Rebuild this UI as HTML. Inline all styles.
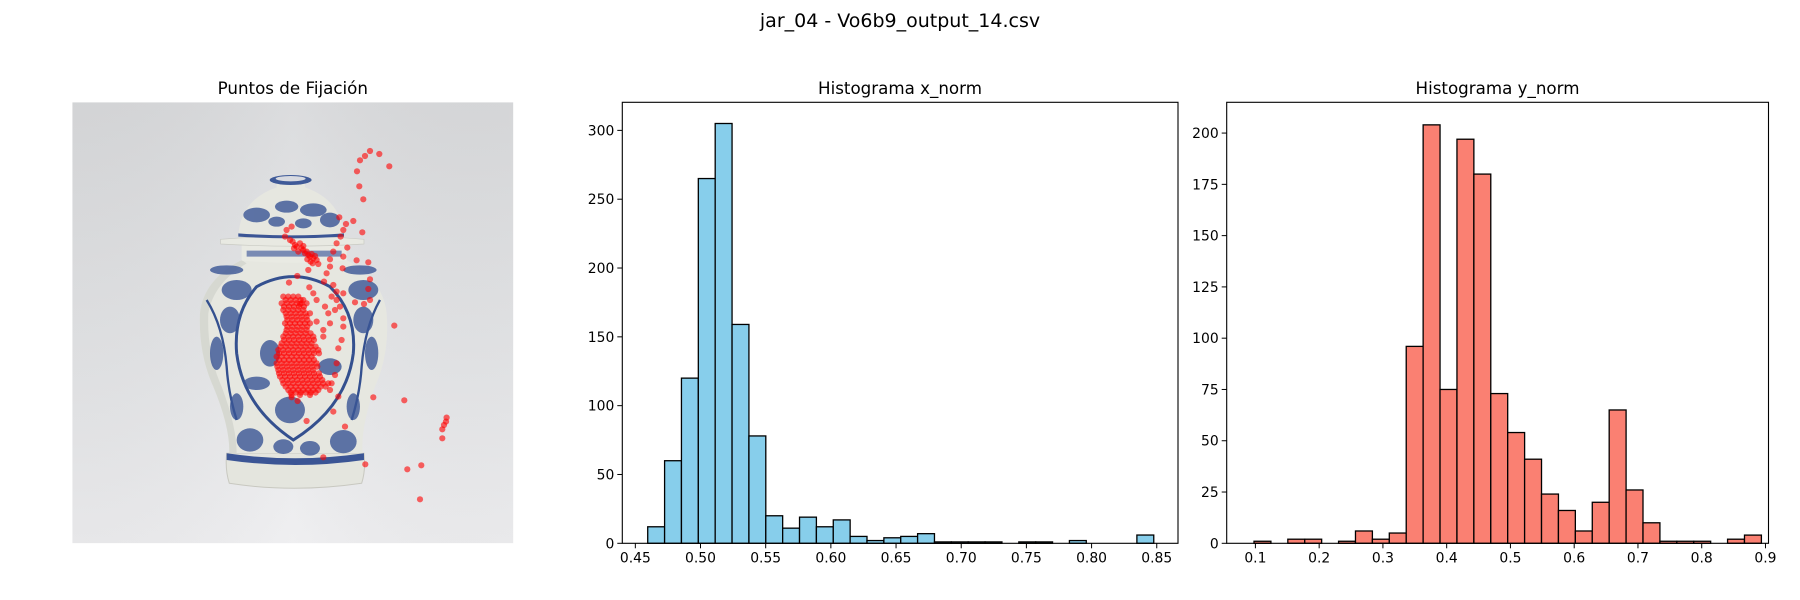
<!DOCTYPE html>
<html><head><meta charset="utf-8">
<style>
html,body{margin:0;padding:0;background:#fff;}
svg{display:block;font-family:"DejaVu Sans","Liberation Sans",sans-serif;}
</style></head>
<body>
<svg id="fig" width="1800" height="600" viewBox="0 0 1800 600" xmlns="http://www.w3.org/2000/svg">
<defs>
<linearGradient id="bg" x1="0" y1="0" x2="0" y2="1">
<stop offset="0" stop-color="#d9dadc"/><stop offset="0.6" stop-color="#e5e6e8"/><stop offset="1" stop-color="#eeeef0"/>
</linearGradient>
<linearGradient id="bgh" x1="0" y1="0" x2="1" y2="0">
<stop offset="0" stop-color="#000" stop-opacity="0.03"/><stop offset="0.5" stop-color="#fff" stop-opacity="0.06"/><stop offset="1" stop-color="#000" stop-opacity="0.02"/>
</linearGradient>
<clipPath id="imgclip"><rect x="72.3" y="102.3" width="441" height="441"/></clipPath>
</defs>
<text x="900" y="27" text-anchor="middle" font-size="19" fill="#000">jar_04 - Vo6b9_output_14.csv</text>

<g id="panel1">
<text x="292.8" y="94" text-anchor="middle" font-size="16.7">Puntos de Fijación</text>
<g clip-path="url(#imgclip)">
<rect x="72.3" y="102.3" width="441" height="441" fill="url(#bg)"/>
<rect x="72.3" y="102.3" width="441" height="441" fill="url(#bgh)"/>
<g id="vase" transform="translate(70,100) scale(0.3333)">
<path d="M470 1060 Q465 1110 478 1150 Q670 1180 875 1150 Q888 1110 882 1060 Z" fill="#e4e5de" stroke="#c8c8c0" stroke-width="3"/>
<path d="M470 1060 Q675 1090 882 1060 L882 1080 Q675 1110 470 1080 Z" fill="#3b5595"/>
<path d="M515 480 Q400 540 390 640 Q385 760 430 860 Q480 980 478 1060 L878 1060 Q872 980 915 860 Q960 760 950 640 Q940 540 830 480 Z" fill="#e6e7e0"/>
<path d="M515 480 Q400 540 390 640 Q385 760 430 860 Q480 980 478 1060 L500 1060 Q500 980 455 860 Q410 760 415 640 Q430 550 530 490 Z" fill="#d6d8d1"/>
<path d="M560 560 Q670 500 780 560 Q860 640 850 760 Q830 920 670 1020 Q520 920 500 760 Q490 640 560 560 Z" fill="none" stroke="#34508f" stroke-width="9"/>
<path d="M410 600 Q460 680 470 800 Q475 880 500 960" fill="none" stroke="#34508f" stroke-width="7"/>
<path d="M930 600 Q885 680 875 800 Q870 880 845 960" fill="none" stroke="#34508f" stroke-width="7"/>
<g fill="#3a5596" opacity="0.8">
<ellipse cx="500" cy="570" rx="45" ry="30"/><ellipse cx="880" cy="570" rx="45" ry="30"/>
<ellipse cx="470" cy="510" rx="50" ry="14"/><ellipse cx="870" cy="510" rx="50" ry="14"/>
<ellipse cx="540" cy="1020" rx="40" ry="35"/><ellipse cx="820" cy="1025" rx="40" ry="35"/>
<ellipse cx="640" cy="1040" rx="30" ry="22"/><ellipse cx="720" cy="1045" rx="30" ry="22"/>
<ellipse cx="560" cy="850" rx="40" ry="20"/><ellipse cx="660" cy="930" rx="45" ry="40"/>
<ellipse cx="780" cy="800" rx="35" ry="25"/><ellipse cx="600" cy="760" rx="30" ry="40"/>
<ellipse cx="440" cy="760" rx="20" ry="50"/><ellipse cx="905" cy="760" rx="20" ry="50"/>
<ellipse cx="880" cy="660" rx="30" ry="40"/><ellipse cx="480" cy="660" rx="30" ry="40"/>
<ellipse cx="500" cy="920" rx="20" ry="40"/><ellipse cx="850" cy="920" rx="20" ry="40"/>
</g>
<path d="M515 432 L830 432 L830 482 Q672 495 515 482 Z" fill="#e9eae3"/>
<path d="M530 452 L815 452 L815 470 L530 470 Z" fill="#4a639f" opacity="0.7"/>
<path d="M452 418 Q670 400 882 418 L882 432 Q670 445 452 432 Z" fill="#e8e9e2" stroke="#c9cac3" stroke-width="2"/>
<path d="M505 410 Q510 300 620 262 L705 262 Q815 300 822 410 Q665 420 505 410 Z" fill="#e6e7e0"/>
<path d="M505 400 Q665 412 822 400 L822 410 Q665 420 505 410 Z" fill="#3b5595"/>
<g fill="#3a5596" opacity="0.8">
<ellipse cx="560" cy="345" rx="40" ry="22"/><ellipse cx="650" cy="320" rx="35" ry="18"/>
<ellipse cx="730" cy="330" rx="40" ry="20"/><ellipse cx="780" cy="360" rx="30" ry="22"/>
<ellipse cx="620" cy="365" rx="25" ry="15"/><ellipse cx="700" cy="370" rx="25" ry="15"/>
</g>
<path d="M620 250 L705 250 L705 275 Q662 285 620 275 Z" fill="#e6e7e0"/>
<ellipse cx="662" cy="240" rx="63" ry="15" fill="#3f5a98"/>
<ellipse cx="662" cy="236" rx="45" ry="8" fill="#d8dae0"/>
</g>
<g id="points"></g>
</g>
</g>

<g id="panel2">
<text x="900" y="94" text-anchor="middle" font-size="16.7">Histograma x_norm</text>
<g id="h1bars"></g><g id="h1axes"></g>
</g>
<g id="panel3">
<text x="1497.5" y="94" text-anchor="middle" font-size="16.7">Histograma y_norm</text>
<g id="h2bars"></g><g id="h2axes"></g>
</g>
</svg>
<script>
// ---- fixation data (image pixel coords, image spans 7..1330 in both axes) ----
const fixX = [900,928,885,870,958,861,868,880,850,877,808,828,820,812,800,832,820,860,895,790,780,745,780,818,900,895,900,855,882,973,910,1003,1130,1128,1122,1117,1117,886,1012,1054,1050,825,790,760,710,683,805,665,715,682,657,770,762,790,800,800,810,820,820,795,780,760,760,815,805,800,795,785,780,740,720,740,730,718,775,765,700,690,660,650,665,645,820,785,
668,675,680,690,695,700,705,710,715,720,725,730,735,712,722,700,685,672,728,740,
640,655,670,685,635,650,665,680,695,710,640,655,670,685,700,650,665,680,695,710,645,660,675,690,705,720,650,665,680,695,710,640,655,670,685,700,715,730,635,650,665,680,695,710,725,625,640,655,670,685,700,715,730,745,620,635,650,665,680,695,710,725,620,635,650,665,680,695,710,725,740,625,640,655,670,685,700,715,730,630,645,660,675,690,705,720,735,750,640,655,670,685,700,715,730,745,760,775,655,670,685,700,715,730,745,665,690,720];
const fixY = [153,162,168,181,199,214,259,298,363,397,352,372,390,410,430,443,470,481,487,455,478,492,500,505,538,567,600,607,612,677,892,901,953,965,975,988,1015,1093,1108,1096,1198,980,935,1072,963,903,890,892,510,528,548,520,545,555,575,600,620,655,680,630,670,690,710,720,745,790,825,850,870,665,640,600,580,562,640,620,600,612,420,390,380,410,580,590,
425,435,440,430,445,450,460,455,465,470,462,475,468,478,485,438,455,445,490,480,
590,590,590,590,610,610,610,610,610,610,630,630,630,630,630,650,650,650,650,650,670,670,670,670,670,670,690,690,690,690,690,710,710,710,710,710,710,710,730,730,730,730,730,730,730,750,750,750,750,750,750,750,750,750,770,770,770,770,770,770,770,770,790,790,790,790,790,790,790,790,790,810,810,810,810,810,810,810,810,830,830,830,830,830,830,830,830,830,850,850,850,850,850,850,850,850,850,850,870,870,870,870,870,870,870,885,885,885];
// additional dense-cluster fixations
const blobX = [647,662,677,692, 642,657,672,687,702, 647,662,677,692,707, 652,667,682,697,712, 652,667,682,697,712, 647,662,677,692,707,722, 642,657,672,687,702,717,732, 632,647,662,677,692,707,722,737, 627,642,657,672,687,702,717,732,747, 627,642,657,672,687,702,717,732, 622,637,652,667,682,697,712,727,742, 627,642,657,672,687,702,717,732,747, 637,652,667,682,697,712,727,742,757, 647,662,677,692,707,722,737,752,767, 662,677,692,707,722,737];
const blobY = [600,600,600,600, 620,620,620,620,620, 640,640,640,640,640, 660,660,660,660,660, 680,680,680,680,680, 700,700,700,700,700,700, 720,720,720,720,720,720,720, 740,740,740,740,740,740,740,740, 760,760,760,760,760,760,760,760,760, 780,780,780,780,780,780,780,780, 800,800,800,800,800,800,800,800,800, 820,820,820,820,820,820,820,820,820, 840,840,840,840,840,840,840,840,840, 860,860,860,860,860,860,860,860,860, 878,878,878,878,878,878];

// ---- histogram x_norm ----
const xBinStart = 0.4595;
const xBinEnd = 0.8477;
const xCounts = [12,60,120,265,305,159,78,20,11,19,12,17,5,2,4,5,7,1,1,1,1,0,1,1,0,2,0,0,0,6];
const xTickVals = [0.45,0.50,0.55,0.60,0.65,0.70,0.75,0.80,0.85];
const xTickLabels = ["0.45","0.50","0.55","0.60","0.65","0.70","0.75","0.80","0.85"];
const xCountTicks = [0,50,100,150,200,250,300];

// ---- histogram y_norm ----
const yBinStart = 0.0978;
const yBinEnd = 0.8936;
const yCounts = [1,0,2,2,0,1,6,2,5,96,204,75,197,180,73,54,41,24,16,6,20,65,26,10,1,1,1,0,2,4];
const yTickVals = [0.1,0.2,0.3,0.4,0.5,0.6,0.7,0.8,0.9];
const yTickLabels = ["0.1","0.2","0.3","0.4","0.5","0.6","0.7","0.8","0.9"];
const yCountTicks = [0,25,50,75,100,125,150,175,200];

const NS = "http://www.w3.org/2000/svg";
function mk(tag, attrs, parent){const e=document.createElementNS(NS,tag);for(const k in attrs)e.setAttribute(k,attrs[k]);parent.appendChild(e);return e;}

const imgX = v => 72.3 + (v-7)/1323*441;
const imgY = v => 102.3 + (v-7)/1323*441;
const pg = document.getElementById('points');
function drawPts(xs, ys){
  for(let i=0;i<xs.length;i++){
    const c = mk('circle',{cx:imgX(xs[i]).toFixed(1),cy:imgY(ys[i]).toFixed(1),r:3.1,fill:'#ff0000','fill-opacity':0.6},pg);
    
    
  }
}
drawPts(fixX, fixY);
drawPts(blobX, blobY);

function hist(cfg){
  const {left,right,top,bottom,x0,x1,ymax,start,end,counts,color,tickVals,tickLabels,countTicks,barsId,axesId,prefix} = cfg;
  const sx = v => left + (v-x0)/(x1-x0)*(right-left);
  const sy = v => bottom - v/ymax*(bottom-top);
  const bg = document.getElementById(barsId), ag = document.getElementById(axesId);
  const w = (end-start)/counts.length;
  for(let i=0;i<counts.length;i++){
    if(counts[i]<=0) continue;
    const xa = sx(start+i*w), xb = sx(start+(i+1)*w);
    const r = mk('rect',{x:xa.toFixed(2),y:sy(counts[i]).toFixed(2),width:(xb-xa).toFixed(2),height:(bottom-sy(counts[i])).toFixed(2),fill:color,stroke:'#000','stroke-width':1.3},bg);
    
    
  }
  const fr = mk('rect',{x:left,y:top,width:right-left,height:bottom-top,fill:'none',stroke:'#000','stroke-width':1.1},ag);
  
  
  tickVals.forEach((v,i)=>{
    const x = sx(v);
    mk('line',{x1:x,x2:x,y1:bottom,y2:bottom+5,stroke:'#000','stroke-width':1},ag);
    const t = mk('text',{x:x,y:bottom+19,'text-anchor':'middle','font-size':13.9},ag);
    t.textContent = tickLabels[i];
    
    
  });
  countTicks.forEach(v=>{
    const y = sy(v);
    mk('line',{x1:left-5,x2:left,y1:y,y2:y,stroke:'#000','stroke-width':1},ag);
    const t = mk('text',{x:left-8,y:y+5,'text-anchor':'end','font-size':13.9},ag);
    t.textContent = String(v);
    
    
  });
}
hist({left:622.3,right:1178,top:102.3,bottom:543.3,x0:0.44,x1:0.8663,ymax:320.4,start:xBinStart,end:xBinEnd,counts:xCounts,color:'#87ceeb',tickVals:xTickVals,tickLabels:xTickLabels,countTicks:xCountTicks,barsId:'h1bars',axesId:'h1axes',prefix:'x-hist'});
hist({left:1226.7,right:1768.5,top:102.3,bottom:543.3,x0:0.1-(1255.4-1226.7)/637.6,x1:0.1+(1768.5-1255.4)/637.6,ymax:215,start:yBinStart,end:yBinEnd,counts:yCounts,color:'#fa8072',tickVals:yTickVals,tickLabels:yTickLabels,countTicks:yCountTicks,barsId:'h2bars',axesId:'h2axes',prefix:'y-hist'});
</script>
</body></html>
